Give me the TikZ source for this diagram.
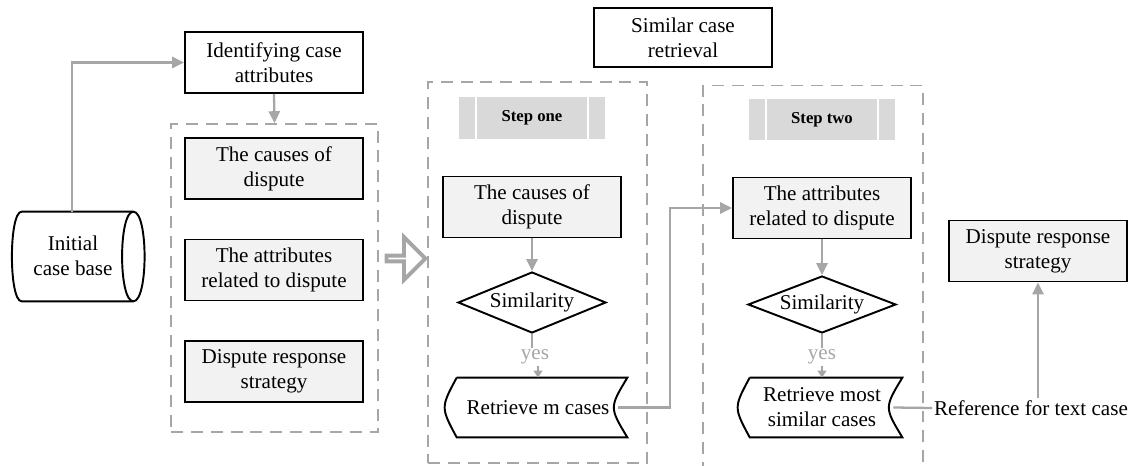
\documentclass[tikz,border=0pt]{standalone}
\usepackage{fontspec}
\setmainfont{Liberation Serif}
\usetikzlibrary{arrows.meta, positioning, shapes.geometric, shapes.arrows, calc}
\definecolor{linegray}{HTML}{A6A6A6}
\definecolor{boxgray}{HTML}{F2F2F2}
\definecolor{headgray}{HTML}{D9D9D9}

\begin{document}
\begin{tikzpicture}[x=0.02cm, y=-0.02cm,
  every node/.style={font=\fontsize{12}{14.2}\selectfont, align=center},
  plainbox/.style={draw=black, line width=1.1pt, minimum width=3.56cm, minimum height=1.22cm, inner sep=0pt},
  greybox/.style={plainbox, fill=boxgray},
  groupbox/.style={draw=linegray, line width=1pt, dash pattern=on 6.8pt off 4.5pt, inner sep=0pt},
  header/.style={fill=headgray, minimum width=2.92cm, minimum height=0.84cm, inner sep=0pt, font=\fontsize{9.5}{11}\selectfont\bfseries},
  decision/.style={diamond, draw=black, line width=1.1pt, minimum width=2.96cm, minimum height=1.22cm, inner sep=0pt, aspect=2.4},
  store/.style={minimum width=2.64cm, minimum height=1.78cm, inner sep=0pt},
  docbox/.style={minimum width=3.56cm, minimum height=1.18cm, inner sep=0pt},
  hollow/.style={single arrow, draw=linegray, line width=2.2pt, minimum height=0.78cm, minimum width=0.86cm, single arrow head extend=0.25cm, inner sep=0pt},
  arr/.style={draw=linegray, line width=1.3pt, -{Triangle[length=6.8pt,width=6.4pt]}},
  smallarr/.style={draw=linegray, line width=1.3pt, -{Triangle[length=4pt,width=5pt]}},
  link/.style={draw=linegray, line width=1.3pt},
  docline/.style={draw=black, line width=1.1pt},
  ]
\useasboundingbox (0,0) rectangle (1137,466);

\node[store] (base) at (78,256.5) {};
\node (basetext) at (73,256) {Initial\\case base};
\draw[docline] ($(base.north west)+(10,0)$) -- ($(base.north east)+(-11,0)$)
  .. controls ($(base.north east)+(4,0)$) and ($(base.south east)+(4,0)$) .. ($(base.south east)+(-11,0)$)
  -- ($(base.south west)+(10,0)$)
  .. controls ($(base.south west)+(-3,0)$) and ($(base.north west)+(-3,0)$) .. ($(base.north west)+(10,0)$);
\draw[docline] ($(base.north east)+(-11,0)$) .. controls ($(base.north east)+(-26,0)$) and ($(base.south east)+(-26,0)$) .. ($(base.south east)+(-11,0)$);
\node[plainbox] (ident) at (274,62.5) {Identifying case\\attributes};
\node[groupbox, minimum width=4.14cm, minimum height=6.16cm] (attrs) at (274.5,278) {};
\node[greybox] (cause) at (274,168.5) {The causes of\\dispute};
\node[greybox] (relate) at (274,270) {The attributes\\related to dispute};
\node[greybox] (strat) at (274,371.5) {Dispute response\\strategy};
\node[hollow] (go) at (404.5,258.5) {};

\node[plainbox, minimum height=1.18cm] (simret) at (683,37.5) {Similar case\\retrieval};
\node[groupbox, minimum width=4.38cm, minimum height=7.62cm] (one) at (537.5,272.5) {};
\node[groupbox, minimum width=4.4cm, minimum height=7.9cm] (two) at (813,283) {};

\node[header] (hdone) at (532,118) {Step one};
\draw[white, line width=1.1pt] ([xshift=0.34cm]hdone.north west) -- ([xshift=0.34cm]hdone.south west);
\draw[white, line width=1.1pt] ([xshift=-0.34cm]hdone.north east) -- ([xshift=-0.34cm]hdone.south east);
\node[greybox] (causeone) at (532,207) {The causes of\\dispute};
\node[decision] (simone) at (532,302.5) {Similarity};
\node[text=linegray, inner sep=1pt] (yesone) at (535,357) {yes};
\node[docbox] (getm) at (538,407.5) {Retrieve m cases};
\draw[docline] ($(getm.north west)+(8,0)$) -- (getm.north east) .. controls ($(getm.east)+(-18,0)$) .. (getm.south east) -- ($(getm.south west)+(8,0)$) .. controls ($(getm.west)+(-8,0)$) .. ($(getm.north west)+(8,0)$);

\node[header] (hdtwo) at (822,119.5) {Step two};
\draw[white, line width=1.1pt] ([xshift=0.34cm]hdtwo.north west) -- ([xshift=0.34cm]hdtwo.south west);
\draw[white, line width=1.1pt] ([xshift=-0.34cm]hdtwo.north east) -- ([xshift=-0.34cm]hdtwo.south east);
\node[greybox] (relatetwo) at (822,208) {The attributes\\related to dispute};
\node[decision, minimum height=1.14cm] (simtwo) at (822,304.5) {Similarity};
\node[text=linegray, inner sep=1pt] (yestwo) at (822,357) {yes};
\node[docbox, minimum width=3.2cm] (getmost) at (822,407.5) {Retrieve most\\similar cases};
\draw[docline] ($(getmost.north west)+(8,0)$) -- (getmost.north east) .. controls ($(getmost.east)+(-18,0)$) .. (getmost.south east) -- ($(getmost.south west)+(8,0)$) .. controls ($(getmost.west)+(-8,0)$) .. ($(getmost.north west)+(8,0)$);

\node[inner sep=1pt] (refer) at (1031,408) {Reference for text case};
\node[greybox] (result) at (1038,251) {Dispute response\\strategy};

\draw[arr] ([xshift=-0.12cm]base.north) |- (ident.west);
\draw[arr] (ident.south) -- (attrs.north);
\draw[arr] (causeone.south) -- (simone.north);
\draw[link] (simone.south) -- (yesone.north -| simone.south);
\draw[smallarr] (yesone.south -| getm.north) -- (getm.north);
\draw[arr] ([xshift=-0.18cm]getm.east) -- ++(52,0) |- (relatetwo.west);
\draw[arr] (relatetwo.south) -- (simtwo.north);
\draw[link] (simtwo.south) -- (yestwo.north);
\draw[smallarr] (yestwo.south) -- (getmost.north);
\draw[link] ([xshift=-0.18cm]getmost.east) -- (refer.west);
\draw[arr] (refer.north -| result.south) -- (result.south);
\end{tikzpicture}
\end{document}
